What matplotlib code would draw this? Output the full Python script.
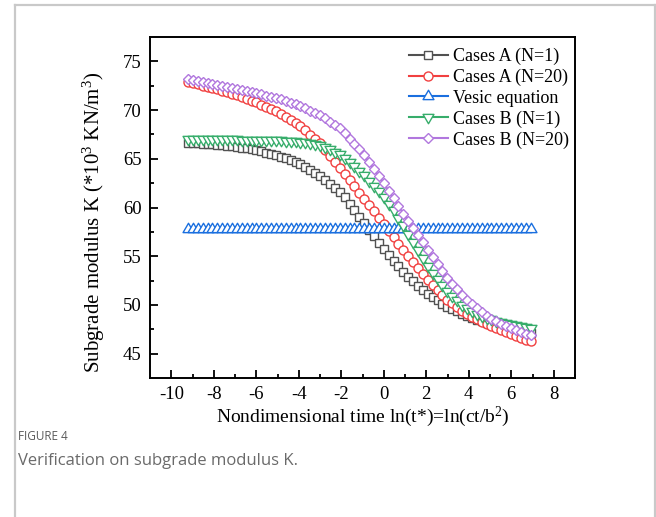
import matplotlib
matplotlib.use("Agg")
import matplotlib.pyplot as plt
from matplotlib.lines import Line2D
from matplotlib.path import Path

plt.rcParams['font.family'] = ['Liberation Serif', 'DejaVu Serif']
plt.rcParams['mathtext.fontset'] = 'custom'
plt.rcParams['mathtext.rm'] = 'Liberation Serif'
plt.rcParams['mathtext.it'] = 'Liberation Serif:italic'
plt.rcParams['axes.unicode_minus'] = False

# ---------------- data ----------------
ln_t = [-9.21, -8.98, -8.75, -8.52, -8.29, -8.06, -7.83, -7.60, -7.37, -7.14,
        -6.91, -6.68, -6.45, -6.22, -5.99, -5.76, -5.53, -5.30, -5.07, -4.84,
        -4.61, -4.38, -4.15, -3.92, -3.69, -3.45, -3.22, -2.99, -2.76, -2.53,
        -2.30, -2.07, -1.84, -1.61, -1.38, -1.15, -0.92, -0.69, -0.46, -0.23,
        0.00, 0.23, 0.46, 0.69, 0.92, 1.15, 1.38, 1.61, 1.84, 2.07,
        2.30, 2.53, 2.76, 2.99, 3.22, 3.45, 3.68, 3.91, 4.14, 4.37,
        4.61, 4.84, 5.07, 5.30, 5.53, 5.76, 5.99, 6.22, 6.45, 6.68, 6.91]

cases_a_n1 = [66.64, 66.61, 66.58, 66.55, 66.52, 66.49, 66.44, 66.39, 66.34, 66.28,
              66.22, 66.14, 66.06, 65.98, 65.89, 65.77, 65.64, 65.52, 65.39, 65.23,
              65.06, 64.89, 64.71, 64.50, 64.20, 63.89, 63.59, 63.28, 62.87, 62.45,
              62.04, 61.63, 61.04, 60.37, 59.70, 59.04, 58.37, 57.70, 57.03, 56.37,
              55.70, 55.13, 54.55, 53.98, 53.40, 52.90, 52.44, 51.98, 51.52, 51.10,
              50.78, 50.46, 50.14, 49.81, 49.57, 49.33, 49.09, 48.84, 48.65, 48.49,
              48.32, 48.16, 48.01, 47.88, 47.76, 47.63, 47.51, 47.41, 47.30, 47.20, 47.10]

cases_a_n20 = [72.85, 72.74, 72.63, 72.52, 72.41, 72.30, 72.16, 72.00, 71.85, 71.69,
               71.53, 71.34, 71.16, 70.98, 70.79, 70.57, 70.35, 70.14, 69.92, 69.63,
               69.32, 69.01, 68.70, 68.35, 67.91, 67.46, 67.02, 66.57, 65.95, 65.33,
               64.71, 64.09, 63.45, 62.81, 62.16, 61.52, 60.88, 60.23, 59.59, 58.94,
               58.30, 57.63, 56.97, 56.30, 55.63, 55.00, 54.37, 53.75, 53.13, 52.55,
               52.04, 51.53, 51.03, 50.52, 50.15, 49.78, 49.41, 49.04, 48.75, 48.51,
               48.26, 48.02, 47.79, 47.60, 47.40, 47.20, 47.01, 46.82, 46.63, 46.44, 46.25]

vesic = [57.75, 57.75, 57.75, 57.75, 57.75, 57.75, 57.75, 57.75, 57.75, 57.75,
         57.75, 57.75, 57.75, 57.75, 57.75, 57.75, 57.75, 57.75, 57.75, 57.75,
         57.75, 57.75, 57.75, 57.75, 57.75, 57.75, 57.75, 57.75, 57.75, 57.75,
         57.75, 57.75, 57.75, 57.75, 57.75, 57.75, 57.75, 57.75, 57.75, 57.75,
         57.75, 57.75, 57.75, 57.75, 57.75, 57.75, 57.75, 57.75, 57.75, 57.75,
         57.75, 57.75, 57.75, 57.75, 57.75, 57.75, 57.75, 57.75, 57.75, 57.75,
         57.75, 57.75, 57.75, 57.75, 57.75, 57.75, 57.75, 57.75, 57.75, 57.75, 57.75]

cases_b_n1 = [67.00, 67.00, 67.00, 67.00, 66.99, 66.99, 66.99, 66.99, 66.98, 66.98,
              66.98, 66.97, 66.97, 66.96, 66.95, 66.94, 66.93, 66.92, 66.90, 66.89,
              66.87, 66.85, 66.82, 66.77, 66.69, 66.61, 66.53, 66.44, 66.20, 65.96,
              65.72, 65.47, 65.10, 64.66, 64.22, 63.79, 63.31, 62.76, 62.20, 61.65,
              61.10, 60.40, 59.72, 58.95, 58.17, 57.33, 56.46, 55.60, 54.78, 53.99,
              53.30, 52.62, 52.02, 51.43, 50.94, 50.46, 50.04, 49.65, 49.34, 49.09,
              48.86, 48.68, 48.51, 48.38, 48.26, 48.13, 48.01, 47.92, 47.83, 47.74, 47.65]

cases_b_n20 = [73.20, 73.10, 72.99, 72.89, 72.78, 72.68, 72.57, 72.47, 72.37, 72.26,
               72.16, 72.06, 71.95, 71.85, 71.74, 71.62, 71.49, 71.37, 71.24, 71.09,
               70.93, 70.77, 70.61, 70.42, 70.19, 69.95, 69.72, 69.49, 69.14, 68.80,
               68.45, 68.11, 67.62, 67.06, 66.51, 65.96, 65.35, 64.64, 63.93, 63.21,
               62.50, 61.72, 60.94, 60.15, 59.37, 58.62, 57.88, 57.15, 56.41, 55.68,
               54.94, 54.20, 53.47, 52.73, 52.19, 51.62, 51.07, 50.52, 50.10, 49.70,
               49.28, 48.88, 48.53, 48.30, 48.07, 47.84, 47.61, 47.43, 47.24, 47.06, 46.87]

series_labels = ["Cases A (N=1)", "Cases A (N=20)", "Vesic equation",
                 "Cases B (N=1)", "Cases B (N=20)"]
x_ticks = [-10, -8, -6, -4, -2, 0, 2, 4, 6, 8]
y_ticks = [45, 50, 55, 60, 65, 70, 75]

# ---------------- style ----------------
colors = ["#515151", "#F14040", "#1A6FDF", "#37AD6B", "#B177DE"]
tri_up = Path([(0, 1.0), (-0.87, -0.5), (0.87, -0.5), (0, 1.0)], closed=True)
tri_dn = Path([(0, -1.0), (-0.87, 0.5), (0.87, 0.5), (0, -1.0)], closed=True)
markers = ["s", "o", tri_up, tri_dn, "D"]
msizes = [6.0, 6.5, 9.0, 9.0, 5.5]

W, H = 656, 517
fig = plt.figure(figsize=(W / 100, H / 100), dpi=100)

# card frame (left, top, right)
fx0, fy0, fx1 = 14.5 / W, 1 - 4.5 / H, 1 - 1.5 / W
for xs, ys in (([fx0, fx0], [0, fy0]), ([fx0, fx1], [fy0, fy0]), ([fx1, fx1], [0, fy0])):
    fig.add_artist(Line2D(xs, ys, transform=fig.transFigure, color="#c9c9c9", lw=1.6))

ax = fig.add_axes([150 / W, 1 - 378 / H, (575 - 150) / W, (378 - 37) / H])

data = [cases_a_n1, cases_a_n20, vesic, cases_b_n1, cases_b_n20]
for ys, lab, c, m, ms in zip(data, series_labels, colors, markers, msizes):
    ax.plot(ln_t, ys, color=c, lw=1.5, marker=m, ms=ms, mfc="white",
            mec=c, mew=1.0, label=lab)

ax.set_xlim(-11, 9)
ax.set_ylim(42.5, 77.5)
ax.set_xticks(x_ticks)
ax.set_xticklabels([str(v) for v in x_ticks])
ax.set_xticks([v + 1 for v in x_ticks], minor=True)
ax.set_yticks(y_ticks)
ax.set_yticklabels([str(v) for v in y_ticks])
ax.set_yticks([v + 2.5 for v in y_ticks[:-1]], minor=True)

for s in ax.spines.values():
    s.set_linewidth(1.4)
ax.tick_params(which="both", direction="in", top=False, right=False,
               labelsize=13.5, width=1.3, pad=6)
ax.tick_params(which="major", length=5.5)
ax.tick_params(which="minor", length=3)

ax.set_xlabel(r"Nondimensional time ln(t*)=ln(ct/b$^{2}$)", fontsize=14, labelpad=1)
ax.set_ylabel(r"Subgrade modulus K (*10$^{3}$ KN/m$^{3}$)", fontsize=15)
ax.yaxis.set_label_coords(-0.10, 0.457)

leg = ax.legend(loc="upper right", bbox_to_anchor=(1.012, 1.0), frameon=False,
                fontsize=13, handlelength=2.15, handletextpad=0.3,
                labelspacing=0.2, borderaxespad=0.2, numpoints=1)

fig.text(18 / W, 1 - 437 / H, "FIGURE 4", family=["Open Sans", "DejaVu Sans"],
         fontsize=8.5, color="#5a5a5a", va="center", ha="left")
fig.text(18 / W, 1 - 461 / H, "Verification on subgrade modulus K.",
         family=["Open Sans", "DejaVu Sans"], fontsize=12, color="#6a6a6a",
         va="center", ha="left")

fig.savefig("out.png", dpi=100)
